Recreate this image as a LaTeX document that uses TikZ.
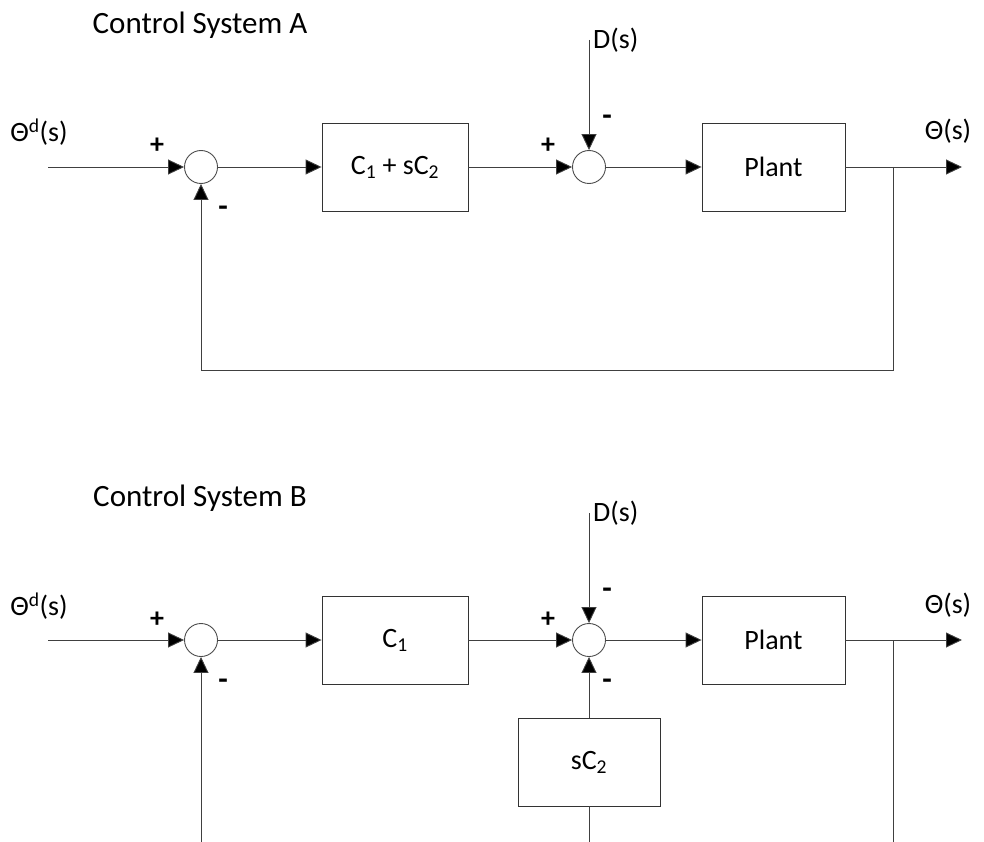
\documentclass[tikz,border=0pt]{standalone}
\usepackage{fontspec}
\setmainfont{Carlito}
\usetikzlibrary{arrows.meta}
\begin{document}
\begin{tikzpicture}[x=1pt,y=-1pt,
  every node/.style={font=\fontsize{28}{30}\selectfont},
  block/.style={draw=black!80, line width=0.9pt, minimum height=88pt, inner sep=0pt},
  sumnode/.style={circle, draw=black!70, line width=0.9pt, minimum size=33pt, inner sep=0pt},
  sig/.style={draw=black!75, line width=0.9pt, -{Triangle[length=16pt,width=15pt,fill=black]}},
  wire/.style={draw=black!75, line width=0.9pt},
  plussign/.style={font=\fontsize{28}{30}\selectfont\bfseries, inner sep=0pt},
  minussign/.style={font=\fontsize{31}{33}\selectfont\bfseries, inner sep=0pt},
  title/.style={font=\fontsize{31}{33}\selectfont, inner sep=0pt}]
\useasboundingbox (0,0) rectangle (984,842);

% ---------------- Control System A ----------------
\node[title] (titleA) at (200,25) {Control System A};

\coordinate (inA) at (48,167);
\node[sumnode] (s1A) at (201,167) {};
\node[block, minimum width=146pt] (cA) at (395,167) {C\textsubscript{1} + sC\textsubscript{2}};
\node[sumnode] (s2A) at (589,167) {};
\node[block, minimum width=143pt] (pA) at (773.5,167) {Plant};
\coordinate (brA) at (893,167);
\coordinate (outA) at (962,167);
\coordinate (dA) at (589,40);
\coordinate (fbA1) at (893,370);
\coordinate (fbA2) at (201,370);

\node[inner sep=0pt] (thdA) at (39,132) {Θ\textsuperscript{d}(s)};
\node[inner sep=0pt] (thA) at (948,131) {Θ(s)};
\node[inner sep=0pt, anchor=west] (dlA) at (593,40) {D(s)};
\node[plussign] (p1A) at (157,146) {+};
\node[minussign] (m1A) at (223,211) {-};
\node[plussign] (p2A) at (548,146) {+};
\node[minussign] (m2A) at (607,120) {-};

\draw[sig] (inA) -- (s1A);
\draw[sig] (s1A) -- (cA);
\draw[sig] (cA) -- (s2A);
\draw[sig] (s2A) -- (pA);
\draw[sig] (pA) -- (outA);
\draw[sig] (dA) -- (s2A);
\draw[sig] (brA) -- (fbA1) -- (fbA2) -- (s1A);

% ---------------- Control System B ----------------
\node[title] (titleB) at (200,498) {Control System B};

\coordinate (inB) at (48,640);
\node[sumnode] (s1B) at (201,640) {};
\node[block, minimum width=146pt] (cB) at (395,640) {C\textsubscript{1}};
\node[sumnode] (s2B) at (589,640) {};
\node[block, minimum width=143pt] (pB) at (773.5,640) {Plant};
\node[block, minimum width=142pt] (dB2) at (589,762) {sC\textsubscript{2}};
\coordinate (brB) at (893,640);
\coordinate (outB) at (962,640);
\coordinate (dB) at (589,513);
\coordinate (fbB1) at (893,842);
\coordinate (fbB2) at (201,842);
\coordinate (fbB3) at (589,842);

\node[inner sep=0pt] (thdB) at (39,606) {Θ\textsuperscript{d}(s)};
\node[inner sep=0pt] (thB) at (948,605) {Θ(s)};
\node[inner sep=0pt, anchor=west] (dlB) at (593,513) {D(s)};
\node[plussign] (p1B) at (157,620) {+};
\node[minussign] (m1B) at (223,684) {-};
\node[plussign] (p2B) at (548,620) {+};
\node[minussign] (m2B) at (607,593) {-};
\node[minussign] (m3B) at (607,684) {-};

\draw[sig] (inB) -- (s1B);
\draw[sig] (s1B) -- (cB);
\draw[sig] (cB) -- (s2B);
\draw[sig] (s2B) -- (pB);
\draw[sig] (pB) -- (outB);
\draw[sig] (dB) -- (s2B);
\draw[sig] (dB2) -- (s2B);
\draw[wire] (brB) -- (fbB1);
\draw[sig] (fbB2) -- (s1B);
\draw[wire] (fbB3) -- (dB2);
\end{tikzpicture}
\end{document}
